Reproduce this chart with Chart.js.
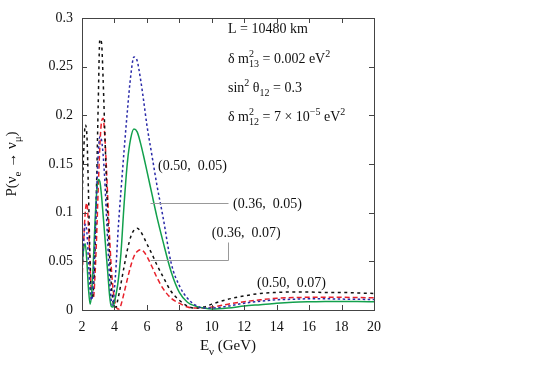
<!DOCTYPE html>
<html>
<head>
<meta charset="utf-8">
<script src="https://cdn.jsdelivr.net/npm/chart.js@4.4.0/dist/chart.umd.min.js"></script>
<style>
  html, body { margin: 0; padding: 0; background: #fff; }
  #wrap { width: 545px; height: 382px; }
</style>
</head>
<body>
<div id="wrap"><canvas id="probChart" width="545" height="382"></canvas></div>
<script>
const energy = [
  2.0, 2.1, 2.2, 2.3, 2.4, 2.5, 2.6, 2.7, 2.8, 2.9,
  3.0, 3.1, 3.2, 3.3, 3.4, 3.5, 3.6, 3.7, 3.8, 3.9,
  4.0, 4.1, 4.2, 4.3, 4.4, 4.6, 4.8, 5.0, 5.2, 5.4,
  5.6, 5.8, 6.0, 6.3, 6.6, 7.0, 7.5, 8.0, 8.5, 9.0,
  9.5, 10, 11, 12, 13, 14, 15, 16, 17, 18, 19, 20
];

// (0.50, 0.05) - blue dotted
const probBlue = [
  0.040, 0.070, 0.088, 0.080, 0.050, 0.020, 0.010, 0.030, 0.070, 0.120,
  0.160, 0.178, 0.175, 0.160, 0.135, 0.100, 0.065, 0.032, 0.010, 0.005,
  0.022, 0.045, 0.075, 0.100, 0.122, 0.165, 0.205, 0.240, 0.260, 0.256,
  0.238, 0.215, 0.190, 0.160, 0.130, 0.095, 0.048, 0.025, 0.012, 0.005,
  0.002, 0.002, 0.004, 0.007, 0.009, 0.0105, 0.011, 0.0115, 0.0115, 0.0112, 0.011, 0.0108
];

// (0.36, 0.05) - green solid
const probGreen = [
  0.045, 0.062, 0.068, 0.050, 0.022, 0.006, 0.018, 0.050, 0.090, 0.120,
  0.134, 0.132, 0.118, 0.098, 0.077, 0.056, 0.036, 0.015, 0.004, 0.003,
  0.008, 0.016, 0.026, 0.040, 0.058, 0.110, 0.152, 0.176, 0.186, 0.183,
  0.172, 0.158, 0.143, 0.120, 0.097, 0.070, 0.039, 0.018, 0.008, 0.004,
  0.002, 0.001, 0.002, 0.004, 0.0055, 0.007, 0.008, 0.0085, 0.0088, 0.0088, 0.0087, 0.0085
];

// (0.50, 0.07) - black dashed
const probBlack = [
  0.110, 0.160, 0.190, 0.180, 0.120, 0.050, 0.012, 0.020, 0.060, 0.130,
  0.212, 0.278, 0.275, 0.238, 0.186, 0.135, 0.090, 0.055, 0.028, 0.010,
  0.003, 0.003, 0.010, 0.018, 0.027, 0.045, 0.062, 0.075, 0.082, 0.084,
  0.081, 0.075, 0.068, 0.058, 0.047, 0.034, 0.019, 0.010, 0.004, 0.002,
  0.003, 0.006, 0.011, 0.0145, 0.017, 0.018, 0.0185, 0.0185, 0.018, 0.018, 0.0175, 0.017
];

// (0.36, 0.07) - red dashed
const probRed = [
  0.030, 0.070, 0.100, 0.110, 0.085, 0.045, 0.015, 0.012, 0.035, 0.075,
  0.125, 0.168, 0.193, 0.197, 0.180, 0.148, 0.110, 0.075, 0.045, 0.024,
  0.011, 0.004, 0.001, 0.001, 0.005, 0.018, 0.032, 0.045, 0.055, 0.060,
  0.062, 0.060, 0.055, 0.045, 0.034, 0.022, 0.012, 0.007, 0.003, 0.002,
  0.002, 0.003, 0.006, 0.0085, 0.0105, 0.012, 0.0128, 0.013, 0.013, 0.013, 0.0128, 0.0125
];

const xTicks = [2, 4, 6, 8, 10, 12, 14, 16, 18, 20];
const yTicks = [0, 0.05, 0.1, 0.15, 0.2, 0.25, 0.3];
const yTickLabels = ['0', '0.05', '0.1', '0.15', '0.2', '0.25', '0.3'];

const SERIF = "'Liberation Serif', 'DejaVu Serif', serif";

function toPoints(ys) {
    return energy.map((e, i) => ({ x: e, y: ys[i] }));
}

// draw a line of text with sub/superscripts, returns width
function drawRich(ctx, x, y, parts, size, measureOnly) {
    let cx = x;
    const small = Math.round(size * 0.7);
    parts.forEach(p => {
        if (typeof p === 'string') {
            ctx.font = size + 'px ' + SERIF;
            if (!measureOnly) ctx.fillText(p, cx, y);
            cx += ctx.measureText(p).width;
        } else {
            ctx.font = small + 'px ' + SERIF;
            let w = 0;
            if (p.sup) {
                if (!measureOnly) ctx.fillText(p.sup, cx, y - size * 0.42);
                w = Math.max(w, ctx.measureText(p.sup).width);
            }
            if (p.sub) {
                if (!measureOnly) ctx.fillText(p.sub, cx, y + size * 0.3);
                w = Math.max(w, ctx.measureText(p.sub).width);
            }
            cx += w;
        }
    });
    return cx - x;
}

const curveLabels = [
    { text: '(0.50,  0.05)', e: 6.69, p: 0.149 },
    { text: '(0.36,  0.05)', e: 11.31, p: 0.110 },
    { text: '(0.36,  0.07)', e: 10.0, p: 0.080 },
    { text: '(0.50,  0.07)', e: 12.79, p: 0.029 }
];

const leaderLines = [
    [[6.19, 0.110], [11.0, 0.110]],
    [[6.2, 0.0514], [11.0, 0.0514], [11.0, 0.070]]
];

const decorations = {
    id: 'decorations',
    afterDraw(chart) {
        const ctx = chart.ctx;
        const xs = chart.scales.x, ys = chart.scales.y;
        const a = chart.chartArea;
        ctx.save();

        // leader lines
        ctx.strokeStyle = '#999';
        ctx.lineWidth = 1;
        leaderLines.forEach(pts => {
            ctx.beginPath();
            pts.forEach((pt, i) => {
                const px = Math.round(xs.getPixelForValue(pt[0])) + 0.5;
                const py = Math.round(ys.getPixelForValue(pt[1])) + 0.5;
                if (i === 0) ctx.moveTo(px, py); else ctx.lineTo(px, py);
            });
            ctx.stroke();
        });

        // frame and inward ticks
        ctx.strokeStyle = '#444';
        ctx.lineWidth = 1;
        ctx.strokeRect(Math.round(a.left) + 0.5, Math.round(a.top) + 0.5,
            Math.round(a.right - a.left), Math.round(a.bottom - a.top));
        ctx.beginPath();
        xTicks.forEach(v => {
            const px = Math.round(xs.getPixelForValue(v)) + 0.5;
            ctx.moveTo(px, a.bottom); ctx.lineTo(px, a.bottom - 5);
            ctx.moveTo(px, a.top); ctx.lineTo(px, a.top + 5);
        });
        yTicks.forEach(v => {
            const py = Math.round(ys.getPixelForValue(v)) + 0.5;
            ctx.moveTo(a.left, py); ctx.lineTo(a.left + 5, py);
            ctx.moveTo(a.right, py); ctx.lineTo(a.right - 5, py);
        });
        ctx.stroke();

        ctx.fillStyle = '#111';
        ctx.textAlign = 'left';
        ctx.textBaseline = 'alphabetic';

        // curve labels
        ctx.font = '14px ' + SERIF;
        curveLabels.forEach(l => {
            ctx.fillText(l.text, xs.getPixelForValue(l.e), ys.getPixelForValue(l.p) + 5);
        });

        // parameter block
        const bx = 228;
        drawRich(ctx, bx, 33, ['L = 10480 km'], 14);
        drawRich(ctx, bx, 63, ['\u03b4 m', { sup: '2', sub: '13' }, ' = 0.002 eV', { sup: '2' }], 14);
        drawRich(ctx, bx, 92, ['sin', { sup: '2' }, ' \u03b8', { sub: '12' }, ' = 0.3'], 14);
        drawRich(ctx, bx, 121, ['\u03b4 m', { sup: '2', sub: '12' }, ' = 7 \u00d7 10', { sup: '\u22125' }, ' eV', { sup: '2' }], 14);

        // x title
        const xt = ['E', { sub: '\u03bd' }, ' (GeV)'];
        const xw = drawRich(ctx, 0, 0, xt, 15, true);
        drawRich(ctx, (a.left + a.right) / 2 - xw / 2, 350, xt, 15);

        // y title
        const yt = ['P(\u03bd', { sub: 'e' }, ' \u2192 \u03bd', { sub: '\u03bc' }, ')'];
        const yw = drawRich(ctx, 0, 0, yt, 15, true);
        ctx.translate(16, (a.top + a.bottom) / 2);
        ctx.rotate(-Math.PI / 2);
        drawRich(ctx, -yw / 2, 0, yt, 15);

        ctx.restore();
    }
};

const ctx = document.getElementById('probChart');
new Chart(ctx, {
    type: 'line',
    data: {
        datasets: [
            { label: '(0.50, 0.05)', data: toPoints(probBlue), borderColor: '#2a2aa8', borderDash: [2.5, 2.5] },
            { label: '(0.36, 0.05)', data: toPoints(probGreen), borderColor: '#12a04c', borderDash: [] },
            { label: '(0.50, 0.07)', data: toPoints(probBlack), borderColor: '#111111', borderDash: [3, 3.5] },
            { label: '(0.36, 0.07)', data: toPoints(probRed), borderColor: '#e8202a', borderDash: [5, 3] }
        ]
    },
    options: {
        responsive: false,
        animation: false,
        events: [],
        layout: { padding: { top: 18, right: 171, left: 0, bottom: 0 } },
        elements: {
            point: { radius: 0 },
            line: { borderWidth: 1.5, cubicInterpolationMode: 'monotone', fill: false }
        },
        plugins: {
            legend: { display: false },
            tooltip: { enabled: false }
        },
        scales: {
            x: {
                type: 'linear', min: 2, max: 20,
                border: { display: false },
                grid: { display: false, drawTicks: false },
                afterBuildTicks: s => { s.ticks = xTicks.map(v => ({ value: v })); },
                afterFit: s => { s.height = 72; },
                ticks: {
                    autoSkip: false, maxRotation: 0, padding: 9,
                    color: '#111', font: { family: SERIF, size: 14 },
                    callback: v => String(v)
                }
            },
            y: {
                type: 'linear', min: 0, max: 0.3,
                border: { display: false },
                grid: { display: false, drawTicks: false },
                afterBuildTicks: s => { s.ticks = yTicks.map(v => ({ value: v })); },
                afterFit: s => { s.width = 82; },
                ticks: {
                    autoSkip: false, padding: 9,
                    color: '#111', font: { family: SERIF, size: 14 },
                    callback: (v, i) => yTickLabels[i]
                }
            }
        }
    },
    plugins: [decorations]
});
</script>
</body>
</html>
